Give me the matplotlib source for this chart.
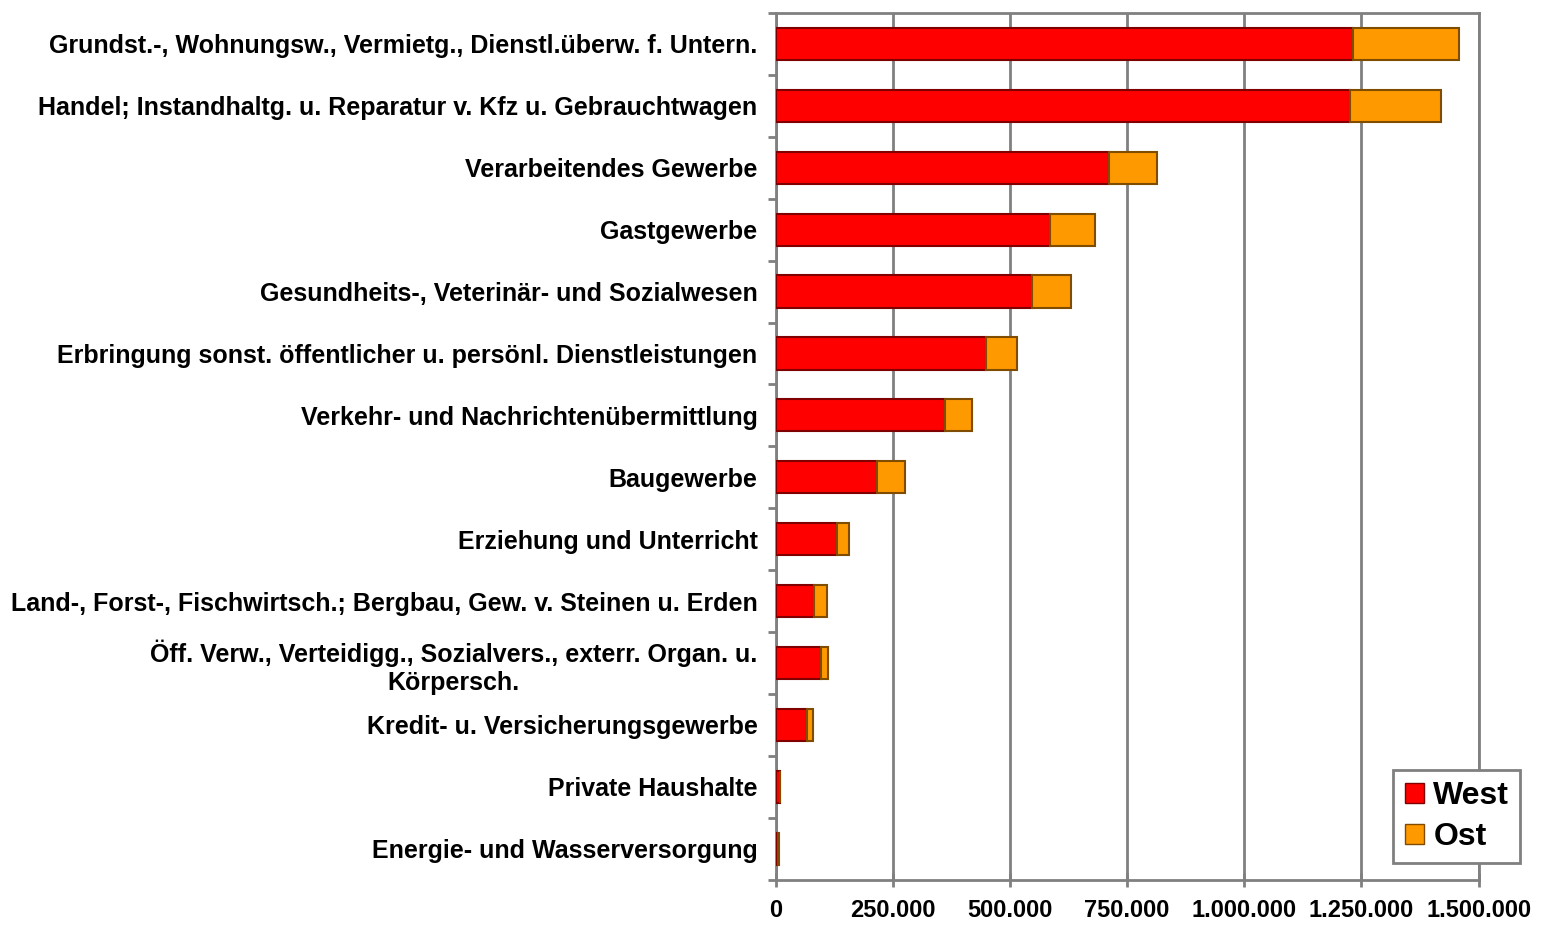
# ----- Erwerbstaetige nach Wirtschaftszweigen, West/Ost -----
import matplotlib.pyplot as plt
from matplotlib.ticker import FuncFormatter
from matplotlib.patches import Patch

plt.rcParams['font.family'] = ['Liberation Sans', 'DejaVu Sans']

categories = [
    "Grundst.-, Wohnungsw., Vermietg., Dienstl.überw. f. Untern.",
    "Handel; Instandhaltg. u. Reparatur v. Kfz u. Gebrauchtwagen",
    "Verarbeitendes Gewerbe",
    "Gastgewerbe",
    "Gesundheits-, Veterinär- und Sozialwesen",
    "Erbringung sonst. öffentlicher u. persönl. Dienstleistungen",
    "Verkehr- und Nachrichtenübermittlung",
    "Baugewerbe",
    "Erziehung und Unterricht",
    "Land-, Forst-, Fischwirtsch.; Bergbau, Gew. v. Steinen u. Erden",
    "Öff. Verw., Verteidigg., Sozialvers., exterr. Organ. u.\nKörpersch.",
    "Kredit- u. Versicherungsgewerbe",
    "Private Haushalte",
    "Energie- und Wasserversorgung",
]
west = [1233000, 1226000, 712000, 585000, 547000, 449000, 361000,
        216000, 132000, 83000, 96000, 68000, 9000, 6000]
ost = [226000, 193000, 102000, 97000, 83000, 66000, 58000,
       60000, 24000, 26000, 15000, 11000, 1000, 1000]

fig = plt.figure(figsize=(15.45, 9.27), dpi=100)
ax = fig.add_axes([0.502, 0.051, 0.455, 0.935])

y = list(range(len(categories)))
ax.barh(y, west, height=0.52, color="#FF0000", edgecolor="#800000", linewidth=1.5, zorder=3)
ax.barh(y, ost, left=west, height=0.52, color="#FF9900", edgecolor="#804C00", linewidth=1.5, zorder=3)

ax.set_ylim(len(categories) - 0.5, -0.5)
ax.set_xlim(0, 1500000)
ax.set_xticks(range(0, 1500001, 250000))
ax.xaxis.set_major_formatter(FuncFormatter(lambda v, p: f"{int(v):,}".replace(",", ".")))
ax.grid(axis="x", color="#808080", linewidth=2, zorder=0)

ax.set_yticks(y)
ax.set_yticklabels(categories, fontsize=18, fontweight="bold")
ax.set_yticks([i - 0.5 for i in range(len(categories) + 1)], minor=True)
ax.tick_params(axis="y", which="major", length=0, pad=13)
ax.tick_params(axis="y", which="minor", length=6, width=2, color="#808080")
ax.tick_params(axis="x", direction="inout", length=10, width=2, color="#808080",
               labelsize=17, pad=9)
for lab in ax.get_xticklabels():
    lab.set_fontweight("bold")
ax.get_yticklabels()[10].set_multialignment("center")

for s in ax.spines.values():
    s.set_color("#808080")
    s.set_linewidth(2)

handles = [Patch(facecolor="#FF0000", edgecolor="#800000", label="West"),
           Patch(facecolor="#FF9900", edgecolor="#804C00", label="Ost")]
leg = fig.legend(handles=handles, loc="center", bbox_to_anchor=(0.943, 0.119),
                 prop={"weight": "bold", "size": 23}, fancybox=False,
                 framealpha=1, edgecolor="#808080", handlelength=0.6, handleheight=0.6,
                 handletextpad=0.3, borderpad=0.35, labelspacing=0.35)
leg.get_frame().set_linewidth(2)

fig.savefig("out.png")
